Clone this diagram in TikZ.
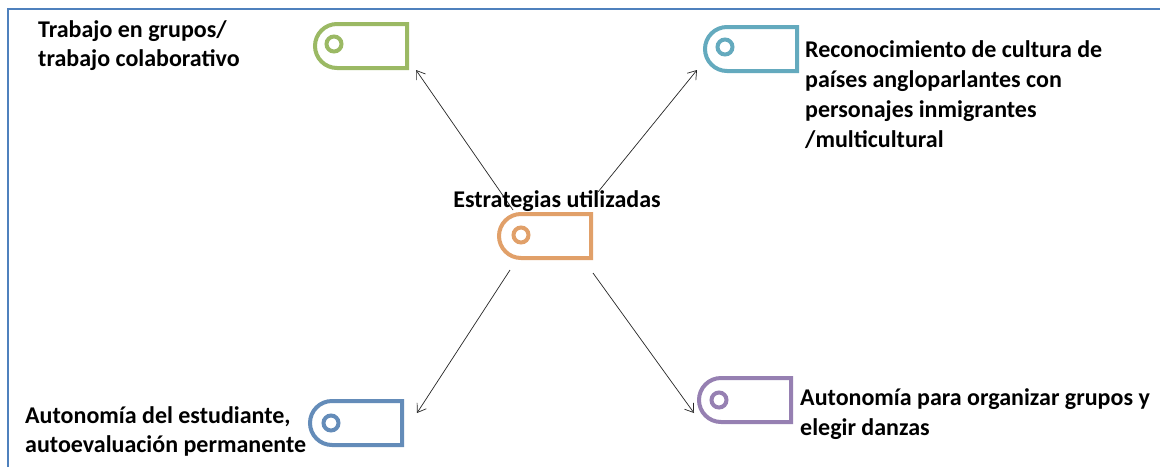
\documentclass[tikz,border=0pt]{standalone}
\usepackage{fontspec}
\setmainfont{Carlito}
\usetikzlibrary{arrows.meta,shapes.misc}
\definecolor{framec}{RGB}{79,129,189}
\definecolor{cgreen}{RGB}{155,185,100}
\definecolor{cteal}{RGB}{100,170,190}
\definecolor{corange}{RGB}{225,160,105}
\definecolor{cblue}{RGB}{100,140,185}
\definecolor{cpurple}{RGB}{150,128,178}
\tikzset{
  tagbox/.style={rounded rectangle, rounded rectangle right arc=none, draw=#1,
    line width=4pt, minimum width=92pt, minimum height=44pt, inner sep=0pt},
  tagring/.style={circle, draw=#1, line width=4pt, minimum size=15pt, inner sep=0pt},
  lbl/.style={font=\bfseries\fontsize{24}{29}\selectfont, align=left, inner sep=0pt, anchor=base west},
  lblwide/.style={lbl, font=\bfseries\fontsize{24}{30}\selectfont},
  conn/.style={draw=black!85, line width=0.7pt, -{Straight Barb[length=8pt,width=11pt]}}
}
\begin{document}
\begin{tikzpicture}[x=1pt,y=-1pt]
\useasboundingbox (0,0) rectangle (1160,467);
\fill[white] (0,0) rectangle (1160,467);
% frame
\draw[framec, line width=2pt] (8,467) -- (8,9) -- (1162,9);
% icons
\node[tagbox=cgreen] (g) at (361,46) {};
\node[tagring=cgreen] (gr) at (334,44) {};
\node[tagbox=cteal] (t) at (751,49) {};
\node[tagring=cteal] (tr) at (725,47) {};
\node[tagbox=corange] (o) at (545,236) {};
\node[tagring=corange] (or) at (521,235) {};
\node[tagbox=cblue] (b) at (356,423) {};
\node[tagring=cblue] (br) at (331,423) {};
\node[tagbox=cpurple] (p) at (745,400) {};
\node[tagring=cpurple] (pr) at (719,400) {};
% connector ends
\coordinate (s1) at (513,210);
\coordinate (s2) at (598,192);
\coordinate (s3) at (510,270);
\coordinate (s4) at (593,273);
\coordinate (e1) at (416,70);
\coordinate (e2) at (697,70);
\coordinate (e3) at (417,413);
\coordinate (e4) at (694,413);
\draw[conn] (s1) -- (e1);
\draw[conn] (s2) -- (e2);
\draw[conn] (s3) -- (e3);
\draw[conn] (s4) -- (e4);
% labels
\node[lbl, anchor=base] (c) at (557,207) {Estrategias utilizadas};
\node[lbl] (tl) at (38,66) {Trabajo en grupos/\\trabajo colaborativo};
\node[lblwide] (trt) at (805,147) {Reconocimiento de cultura de\\países angloparlantes con\\personajes inmigrantes\\/multicultural};
\node[lbl] (bl) at (25,452) {Autonomía del estudiante,\\autoevaluación permanente};
\node[lblwide] (brt) at (800,435) {Autonomía para organizar grupos y\\elegir danzas};
\end{tikzpicture}
\end{document}
